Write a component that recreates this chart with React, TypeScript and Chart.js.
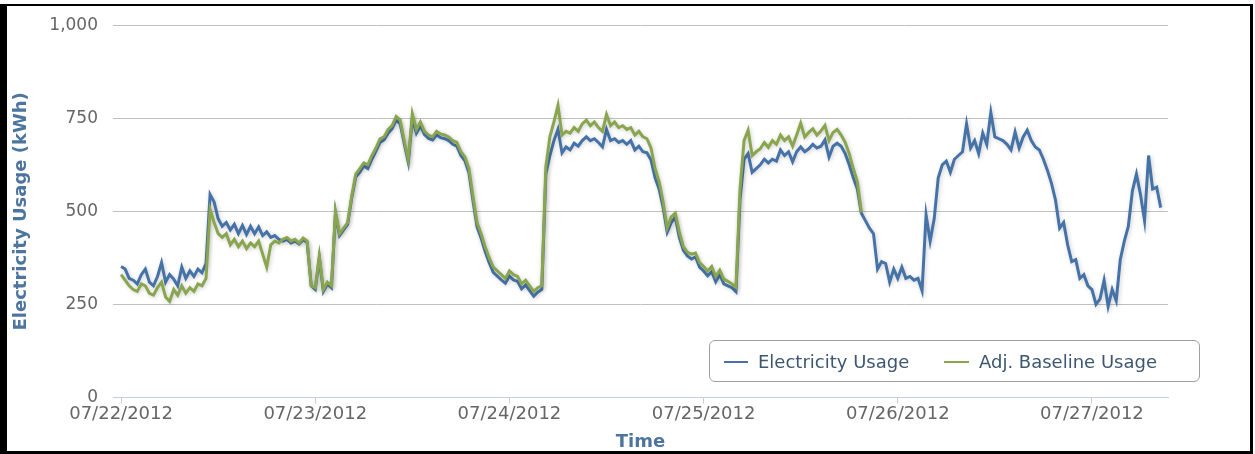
import React, { useEffect, useRef } from "react";
import { Chart, registerables } from "chart.js";

Chart.register(...registerables);

// Half-hourly readings starting 07/22/2012 00:00
const STEP_HOURS = 0.5;

const dateTickHours = [0, 24, 48, 72, 96, 120];
const dateTickLabels = ["07/22/2012", "07/23/2012", "07/24/2012", "07/25/2012", "07/26/2012", "07/27/2012"];
const yTickValues = [0, 250, 500, 750, 1000];

const electricityUsage = [
  352, 345, 320, 315, 305, 330, 345, 310, 300, 325, 362, 310,
  330, 318, 300, 350, 320, 340, 325, 345, 335, 360, 545, 525,
  480, 460, 470, 450, 465, 440, 462, 438, 460, 440, 458, 435,
  445, 430, 435, 425, 420, 425, 415, 420, 412, 424, 416, 300,
  290, 375, 285, 305, 295, 495, 435, 450, 465, 535, 592, 605,
  622, 615, 640, 662, 685, 692, 710, 722, 745, 735, 682, 632,
  750, 710, 730, 706, 696, 692, 705, 698, 695, 690, 680, 675,
  650, 636, 603, 528, 458, 428, 392, 362, 336, 326, 316, 307,
  326, 316, 312, 292, 302, 287, 272, 283, 290, 600, 650, 690,
  720, 657, 673, 665, 683, 675, 690, 700, 690, 695, 685, 673,
  720, 690, 695, 685, 690, 680, 690, 665, 675, 660, 657, 638,
  590, 560, 510, 444, 470, 484, 430, 395, 380, 372, 378, 350,
  340, 327, 338, 311, 330, 305, 300, 295, 284, 530, 640, 655,
  605, 615, 625, 640, 630, 640, 635, 665, 650, 660, 633, 660,
  673, 660, 668, 680, 670, 675, 692, 646, 675, 683, 675, 655,
  625, 590, 560, 495, 475, 455, 440, 345, 365, 360, 310, 345,
  320, 350, 320, 325, 315, 320, 287, 490, 420, 480, 590, 625,
  635, 605, 640, 650, 660, 735, 670, 690, 655, 710, 680, 766,
  700, 695, 690, 680, 665, 713, 670, 700, 718, 690, 673, 665,
  640, 610, 575, 530, 455, 470, 410, 365, 370, 320, 330, 300,
  290, 250, 265, 315, 245, 290, 260, 370, 420, 460, 555, 600,
  545, 475, 650, 560, 565, 510,
];

const adjBaselineUsage = [
  330, 315, 300, 290, 285, 305, 300, 280, 275, 295, 310, 270,
  258, 290, 275, 300, 280, 295, 285, 305, 300, 320, 505, 470,
  440, 430, 440, 410, 425, 405, 420, 400, 415, 405, 420, 385,
  350, 410, 420, 415, 425, 430, 420, 425, 415, 428, 420, 300,
  295, 380, 290, 310, 300, 500, 440, 455, 470, 540, 600, 615,
  630, 625, 650, 670, 695, 700, 720, 730, 755, 745, 690, 640,
  762, 720, 740, 715, 705, 700, 715, 708, 705, 700, 690, 685,
  660, 646, 615, 540, 470, 440, 405, 375, 350, 340, 330, 320,
  340, 330, 325, 305, 315, 300, 285, 295, 300, 620, 700, 740,
  785, 705, 715, 710, 725, 715, 735, 745, 730, 740, 725, 715,
  760, 730, 740, 725, 730, 720, 725, 705, 715, 700, 695, 670,
  615, 580, 525, 455, 485, 495, 445, 405, 390, 385, 388, 362,
  352, 340, 352, 325, 342, 318, 312, 305, 296, 560, 690, 718,
  650, 660, 668, 685, 672, 690, 680, 705, 690, 700, 675, 705,
  737, 700, 712, 722, 705, 716, 731, 690, 712, 720, 705, 685,
  655, 615, 580, 497,
];

const FONT = "'DejaVu Sans', Verdana, sans-serif";
const BLUE = "#4572A7";
const GREEN = "#89A54E";

const shadowPlugin = {
  id: "lineShadow",
  beforeDatasetDraw(chart: any) {
    const c = chart.ctx;
    c.save();
    c.shadowColor = "rgba(0,0,0,0.2)";
    c.shadowBlur = 4;
    c.shadowOffsetX = 1;
    c.shadowOffsetY = 1;
  },
  afterDatasetDraw(chart: any) {
    chart.ctx.restore();
  },
};

export default function App() {
  const canvasRef = useRef<HTMLCanvasElement>(null);

  useEffect(() => {
    if (!canvasRef.current) return;
    const chart = new Chart(canvasRef.current, {
      type: "line",
      data: {
        datasets: [
          {
            label: "Electricity Usage",
            data: electricityUsage.map((v, i) => ({ x: i * STEP_HOURS, y: v })),
            borderColor: BLUE,
            backgroundColor: BLUE,
            borderWidth: 3,
            pointRadius: 0,
            tension: 0,
            order: 1,
          },
          {
            label: "Adj. Baseline Usage",
            data: adjBaselineUsage.map((v, i) => ({ x: i * STEP_HOURS, y: v })),
            borderColor: GREEN,
            backgroundColor: GREEN,
            borderWidth: 3,
            pointRadius: 0,
            tension: 0,
            order: 0,
          },
        ],
      },
      options: {
        responsive: false,
        animation: false,
        devicePixelRatio: 1,
        layout: { padding: { left: 0, right: 87, top: 24, bottom: 0 } },
        plugins: {
          legend: { display: false },
          tooltip: { enabled: false },
        },
        scales: {
          x: {
            type: "linear",
            min: -1,
            max: 129.4,
            afterBuildTicks: (s: any) => {
              s.ticks = dateTickHours.map((v) => ({ value: v }));
            },
            afterFit: (s: any) => {
              s.height = 56.5;
            },
            grid: {
              drawOnChartArea: false,
              drawTicks: true,
              tickLength: 6,
              color: "#C0D0E0",
            },
            border: { color: "#C0D0E0", width: 1 },
            ticks: {
              autoSkip: false,
              maxRotation: 0,
              padding: 0,
              color: "#666666",
              font: { family: FONT, size: 18 },
              callback: (v: any) => {
                const k = dateTickHours.indexOf(Number(v));
                return k >= 0 ? dateTickLabels[k] : "";
              },
            },
            title: {
              display: true,
              text: "Time",
              color: "#4d759e",
              font: { family: FONT, size: 18, weight: "bold" },
              padding: { top: 0, bottom: 1 },
            },
          },
          y: {
            min: 0,
            max: 1000,
            afterBuildTicks: (s: any) => {
              s.ticks = yTickValues.map((v) => ({ value: v }));
            },
            afterFit: (s: any) => {
              s.width = 113;
            },
            grid: { color: "#C0C0C0", drawTicks: false, lineWidth: 1 },
            border: { display: false },
            ticks: {
              padding: 15,
              color: "#666666",
              font: { family: FONT, size: 17 },
              callback: (v: any) => Number(v).toLocaleString("en-US"),
            },
            title: {
              display: true,
              text: "Electricity Usage (kWh)",
              color: "#4d759e",
              font: { family: FONT, size: 18, weight: "bold" },
              padding: { top: 11, bottom: 0 },
            },
          },
        },
      },
      plugins: [shadowPlugin],
    } as any);
    return () => chart.destroy();
  }, []);

  const legendText: React.CSSProperties = {
    position: "absolute",
    top: 0,
    height: 42,
    lineHeight: "42px",
    fontFamily: FONT,
    fontSize: 18,
    color: "#3E576F",
    whiteSpace: "nowrap",
  };

  return (
    <div style={{ position: "fixed", left: 0, top: 0, width: 1255, height: 454, background: "#fff" }}>
      <canvas ref={canvasRef} width={1255} height={454} style={{ position: "absolute", left: 0, top: 0 }} />
      <div
        style={{
          position: "absolute",
          left: 709,
          top: 340,
          width: 491,
          height: 42,
          boxSizing: "border-box",
          border: "1px solid #a0a0a0",
          borderRadius: 6,
          background: "#fff",
        }}
      >
        <div style={{ position: "absolute", left: 14, top: 20, width: 24, height: 2, background: BLUE }} />
        <div style={{ ...legendText, left: 48 }}>Electricity Usage</div>
        <div style={{ position: "absolute", left: 234, top: 20, width: 25, height: 2, background: GREEN }} />
        <div style={{ ...legendText, left: 269 }}>Adj. Baseline Usage</div>
      </div>
      <div
        style={{
          position: "absolute",
          left: 0,
          top: 4,
          width: 1253,
          height: 450,
          boxSizing: "border-box",
          borderTop: "2px solid #000",
          borderLeft: "7px solid #000",
          borderRight: "3px solid #000",
          borderBottom: "3px solid #000",
          pointerEvents: "none",
        }}
      />
    </div>
  );
}
